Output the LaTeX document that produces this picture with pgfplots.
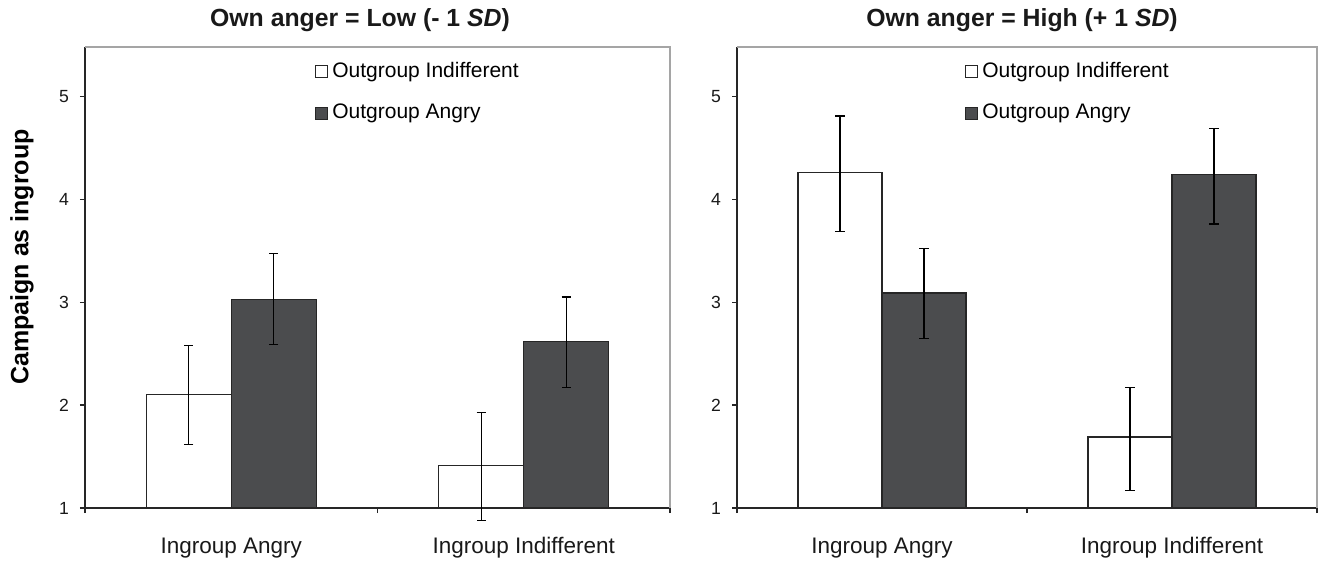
\documentclass[border=0pt]{standalone}
\usepackage{pgfplots}
\usepackage{pgfplotstable}
\pgfplotsset{compat=1.18}
\usepackage{fontspec}
\setmainfont{Liberation Sans}
\definecolor{darkbar}{RGB}{75,76,78}
\definecolor{framegray}{RGB}{165,165,165}

\pgfplotstableread{
x y ep em
0 2.10 0.48 0.48
1 1.41 0.52 0.53
}\lowwhite
\pgfplotstableread{
x y ep em
0 3.03 0.44 0.44
1 2.62 0.43 0.45
}\lowdark
\pgfplotstableread{
x y ep em
0 4.26 0.55 0.57
1 1.69 0.48 0.52
}\highwhite
\pgfplotstableread{
x y ep em
0 3.09 0.43 0.44
1 4.24 0.45 0.48
}\highdark

\pgfplotsset{
  panel/.style={
    scale only axis, height=230.5pt,
    ybar=0pt,
    xmin=-0.5, xmax=1.5, ymin=1, ymax=5.48,
    y coord trafo/.code={\pgfmathparse{##1-1}},
    ytick={1,2,3,4,5}, yticklabels={1,2,3,4,5},
    xtick={-0.5,0.5,1.5}, x tick label as interval,
    xticklabels={Ingroup Angry, Ingroup Indifferent},
    axis x line*=bottom, axis y line*=left,
    axis line style={black!85, line width=0.7pt},
    tick align=outside, major tick length=2.5pt,
    x tick style={black!85, line width=0.6pt},
    y tick style={black!85, line width=0.6pt},
    xticklabel style={font=\fontsize{11.25}{13}\selectfont, text=black!90, anchor=base, yshift=-20pt},
    yticklabel style={font=\fontsize{8.8}{10}\selectfont, text=black!90, xshift=-2pt},
    clip=false,
    legend style={draw=none, fill=none, at={(rel axis cs:0.393,0.977)}, anchor=north west,
      font=\fontsize{10.5}{12}\selectfont, row sep=8pt, inner sep=0pt,
      /tikz/every even column/.append style={column sep=0pt}},
    legend cell align=left,
    legend image code/.code={\draw[##1, line width=0.5pt] (0pt,-3pt) rectangle (6pt,3pt);},
  },
  whitebar/.style={fill=white, draw=black!85, line width=0.6pt,
    error bars/.cd, y dir=both, y explicit,
    error bar style={black, line width=0.6pt},
    error mark options={black, line width=0.6pt, mark size=2.3pt, rotate=90}},
  darkbar/.style={fill=darkbar, draw=black!85, line width=0.6pt,
    error bars/.cd, y dir=both, y explicit,
    error bar style={black, line width=0.6pt},
    error mark options={black, line width=0.6pt, mark size=2.3pt, rotate=90}},
}

\begin{document}
\begin{tikzpicture}
\useasboundingbox (-42.5pt,-26.5pt) rectangle (620pt,254pt);

\begin{axis}[panel, at={(0pt,0pt)}, anchor=south west, width=292.5pt, bar width=42.5pt,
  ylabel={\bfseries Campaign as ingroup},
  ylabel style={font=\fontsize{12.5}{14}\selectfont, at={(axis description cs:-0.1077,0.5445)}, anchor=center}]
\draw[framegray, line width=0.6pt] (rel axis cs:0,1) -- (rel axis cs:1,1) -- (rel axis cs:1,0);
\addplot[whitebar] table[x=x, y=y, y error plus=ep, y error minus=em] {\lowwhite};
\addplot[darkbar] table[x=x, y=y, y error plus=ep, y error minus=em] {\lowdark};
\legend{Outgroup Indifferent, Outgroup Angry}
\end{axis}

\begin{axis}[panel, at={(326pt,0pt)}, anchor=south west, width=290pt, bar width=42pt]
\draw[framegray, line width=0.6pt] (rel axis cs:0,1) -- (rel axis cs:1,1) -- (rel axis cs:1,0);
\addplot[whitebar] table[x=x, y=y, y error plus=ep, y error minus=em] {\highwhite};
\addplot[darkbar] table[x=x, y=y, y error plus=ep, y error minus=em] {\highdark};
\legend{Outgroup Indifferent, Outgroup Angry}
\end{axis}

\node[font=\bfseries\fontsize{12.4}{14}\selectfont, anchor=base, text=black!90] at (137.5pt,240.5pt) {Own anger = Low (- 1 \textit{SD})};
\node[font=\bfseries\fontsize{12.4}{14}\selectfont, anchor=base, text=black!90] at (468.5pt,240.5pt) {Own anger = High (+ 1 \textit{SD})};
\end{tikzpicture}
\end{document}
